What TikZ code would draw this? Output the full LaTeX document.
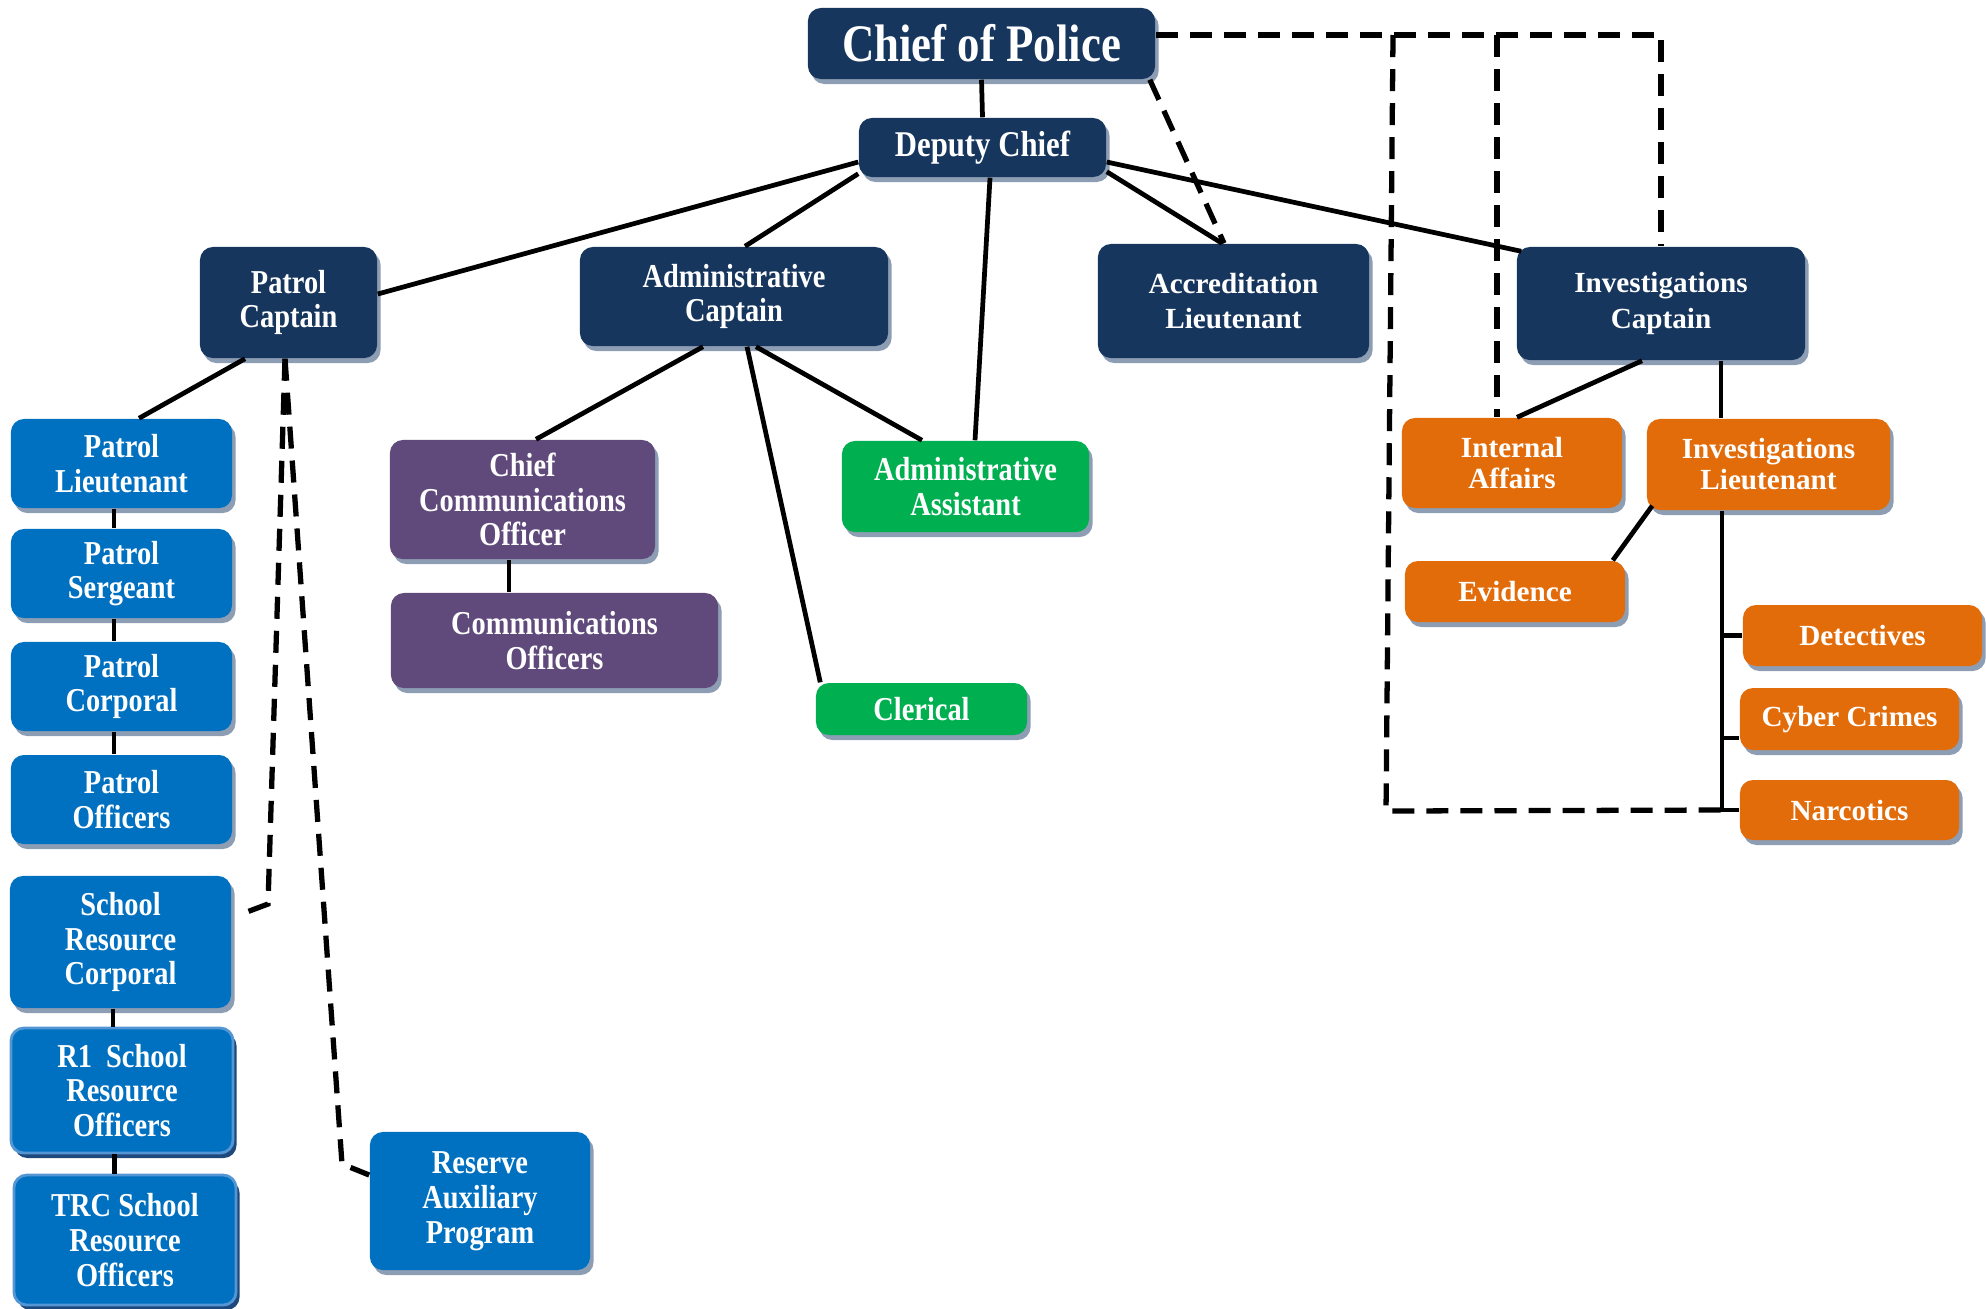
\documentclass[tikz,border=0pt]{standalone}
\usepackage{fontspec}
\setmainfont{Liberation Serif}
\newfontfamily\condfont[FakeStretch=0.85]{Liberation Serif}
\usetikzlibrary{shadows}
\definecolor{chiefnavy}{RGB}{23,54,93}
\definecolor{patrolblue}{RGB}{0,112,192}
\definecolor{srorim}{RGB}{84,150,212}
\definecolor{commpurple}{RGB}{96,73,123}
\definecolor{admgreen}{RGB}{0,176,80}
\definecolor{invorange}{RGB}{227,108,10}
\definecolor{shadowgray}{RGB}{141,157,179}
\definecolor{sroshadow}{RGB}{31,73,125}

\begin{document}
\begin{tikzpicture}[x=0.01cm, y=-0.01cm,
    box/.style={rounded corners=0.13cm, align=center, text=white, inner sep=0pt},
    shad/.style={drop shadow={shadow xshift=0.035cm, shadow yshift=-0.05cm, fill=#1, opacity=1}},
    shad/.default=shadowgray,
    condtext/.style={font=\condfont\bfseries\fontsize{9.5}{9.9}\selectfont},
    regtext/.style={font=\bfseries\fontsize{8.3}{9}\selectfont},
    navy/.style={box, shad, fill=chiefnavy},
    patrol/.style={box, shad, fill=patrolblue, condtext},
    sro/.style={box, shad=sroshadow, fill=patrolblue, draw=srorim, line width=0.8pt, condtext},
    comm/.style={box, shad, fill=commpurple, condtext},
    admin/.style={box, shad, fill=admgreen, condtext},
    inv/.style={box, shad, fill=invorange, regtext, font=\bfseries\fontsize{8.3}{8.8}\selectfont},
    conn/.style={line width=1.35pt},
    dashline/.style={line width=1.5pt, dash pattern=on 0.22cm off 0.12cm}]
    \useasboundingbox (0,0) rectangle (1986,1308);

    % command staff
    \node[navy, minimum width=3.47cm, minimum height=0.71cm, font=\condfont\bfseries\fontsize{15}{17}\selectfont] (chief) at (981.5,43.5) {Chief of Police};
    \node[navy, minimum width=2.47cm, minimum height=0.59cm, font=\condfont\bfseries\fontsize{10.3}{11}\selectfont] (deputy) at (982.5,147.5) {Deputy Chief};
    \node[navy, condtext, minimum width=1.77cm, minimum height=1.11cm] (patcap) at (288.5,302.5) {Patrol\\Captain};
    \node[navy, condtext, minimum width=3.08cm, minimum height=0.99cm] (admcap) at (734,296.5) {Administrative\\Captain};
    \node[navy, regtext, font=\bfseries\fontsize{8.3}{10}\selectfont, minimum width=2.71cm, minimum height=1.14cm] (accred) at (1233.5,301) {Accreditation\\Lieutenant};
    \node[navy, regtext, font=\bfseries\fontsize{8.3}{10}\selectfont, minimum width=2.88cm, minimum height=1.13cm] (invcap) at (1661,303.5) {Investigations\\Captain};

    % patrol
    \node[patrol, minimum width=2.21cm, minimum height=0.89cm] (patlt) at (121.5,463.5) {Patrol\\Lieutenant};
    \node[patrol, minimum width=2.21cm, minimum height=0.89cm] (patsgt) at (121.5,573.5) {Patrol\\Sergeant};
    \node[patrol, minimum width=2.21cm, minimum height=0.89cm] (patcpl) at (121.5,686.5) {Patrol\\Corporal};
    \node[patrol, minimum width=2.21cm, minimum height=0.89cm] (patoff) at (121.5,799.5) {Patrol\\Officers};
    \node[patrol, minimum width=2.21cm, minimum height=1.32cm] (srcpl) at (120.5,942) {School\\Resource\\Corporal};
    \node[sro, minimum width=2.22cm, minimum height=1.25cm] (r1sro) at (122,1090.5) {R1\ \ School\\Resource\\Officers};
    \node[sro, minimum width=2.22cm, minimum height=1.30cm] (trcsro) at (125,1240) {TRC School\\Resource\\Officers};
    \node[patrol, minimum width=2.20cm, minimum height=1.38cm] (reserve) at (480,1201) {Reserve\\Auxiliary\\Program};

    % administration
    \node[comm, minimum width=2.65cm, minimum height=1.19cm] (chcomm) at (522.5,499.5) {Chief\\Communications\\Officer};
    \node[comm, minimum width=3.27cm, minimum height=0.95cm] (comms) at (554.5,640.5) {Communications\\Officers};
    \node[admin, minimum width=2.47cm, minimum height=0.91cm] (admasst) at (965.5,486.5) {Administrative\\Assistant};
    \node[admin, minimum width=2.11cm, minimum height=0.52cm] (clerical) at (921.5,709) {Clerical};

    % investigations
    \node[inv, minimum width=2.20cm, minimum height=0.90cm] (intaff) at (1512,463) {Internal\\Affairs};
    \node[inv, minimum width=2.43cm, minimum height=0.91cm] (invlt) at (1768.5,464.5) {Investigations\\Lieutenant};
    \node[inv, minimum width=2.20cm, minimum height=0.61cm] (evid) at (1515,591.5) {Evidence};
    \node[inv, minimum width=2.39cm, minimum height=0.61cm] (detect) at (1862.5,635.5) {Detectives};
    \node[inv, minimum width=2.19cm, minimum height=0.62cm] (cyber) at (1849.5,719) {Cyber Crimes};
    \node[inv, minimum width=2.19cm, minimum height=0.60cm] (narco) at (1849.5,810) {Narcotics};

    % chain of command
    \draw[conn] (chief.south) -- (deputy.north);
    \draw[conn] ([yshift=-0.145cm]deputy.west) -- ([yshift=0.085cm]patcap.east);
    \draw[conn] ([yshift=0.04cm]deputy.south west) -- ([xshift=0.11cm]admcap.north);
    \draw[conn] ([xshift=0.075cm]deputy.south) -- ([xshift=0.095cm]admasst.north);
    \draw[conn] ([yshift=0.06cm]deputy.south east) -- ([xshift=-0.115cm]accred.north);
    \draw[conn] ([yshift=-0.145cm]deputy.east) -- ([xshift=0.05cm,yshift=-0.05cm]invcap.north west);

    \draw[conn] ([xshift=-0.435cm]patcap.south) -- ([xshift=0.175cm]patlt.north);
    \foreach \a/\b in {patlt/patsgt, patsgt/patcpl, patcpl/patoff, srcpl/r1sro, r1sro/trcsro}
        \draw[conn] ([xshift=-0.075cm]\a.south) -- ([xshift=-0.075cm]\a.south |- \b.north);

    \draw[conn] ([xshift=-0.31cm]admcap.south) -- ([xshift=0.135cm]chcomm.north);
    \draw[conn] ([xshift=0.13cm]admcap.south) -- ([xshift=0.05cm]clerical.north west);
    \draw[conn] ([xshift=0.22cm]admcap.south) -- ([xshift=-0.435cm]admasst.north);
    \draw[conn] ([xshift=-0.135cm]chcomm.south) -- ([xshift=-0.135cm]chcomm.south |- comms.north);

    \draw[conn] ([xshift=-0.19cm]invcap.south) -- ([xshift=0.05cm]intaff.north);
    \draw[conn] ([xshift=0.6cm]invcap.south) -- ([xshift=0.6cm]invcap.south |- invlt.north);
    \draw[conn] ([xshift=0.06cm,yshift=0.05cm]invlt.south west) -- ([xshift=-0.13cm]evid.north east);
    \coordinate (trunk) at ([xshift=-0.465cm]invlt.south);
    \coordinate (cyberin) at ([yshift=-0.19cm]cyber.west);
    \draw[conn] (trunk) -- (trunk |- narco.west) -- (narco.west);
    \draw[conn] (trunk |- detect.west) -- (detect.west);
    \draw[conn] (trunk |- cyberin) -- (cyberin);

    % dotted-line reporting
    \coordinate (dashleft) at (1393,35);
    \coordinate (dashmid) at (1497,35);
    \coordinate (dashcorner) at (1386,811);
    \coordinate (srobend) at (268,904);
    \coordinate (resbend) at (342,1164);
    \draw[dashline] ([yshift=0.085cm]chief.east) -| (invcap.north);
    \draw[dashline] (dashleft) -- (dashcorner) -- (trunk |- narco.west);
    \draw[dashline] (dashmid) -- (dashmid |- intaff.north);
    \draw[dashline] ([xshift=-0.06cm]chief.south east) -- ([xshift=-0.095cm]accred.north);
    \draw[dashline] ([xshift=-0.035cm]patcap.south) -- (srobend) -- ([xshift=0.07cm,yshift=0.27cm]srcpl.east);
    \draw[dashline] ([xshift=-0.035cm]patcap.south) -- (resbend) -- ([yshift=0.26cm]reserve.west);
\end{tikzpicture}
\end{document}
